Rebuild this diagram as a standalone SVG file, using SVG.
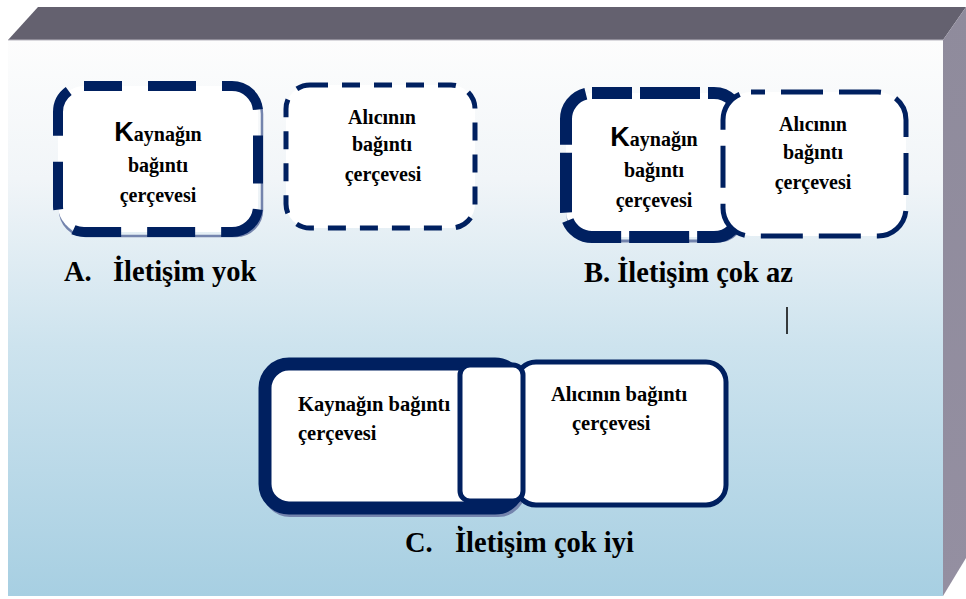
<svg xmlns="http://www.w3.org/2000/svg" width="966" height="599" viewBox="0 0 966 599">
  <defs>
    <linearGradient id="face" x1="0" y1="0" x2="0" y2="1">
      <stop offset="0" stop-color="#fdfdfd"/>
      <stop offset="0.25" stop-color="#f1f5f8"/>
      <stop offset="0.55" stop-color="#cde3ee"/>
      <stop offset="1" stop-color="#a7cfe2"/>
    </linearGradient>
    <linearGradient id="side" x1="0" y1="0" x2="0" y2="1">
      <stop offset="0" stop-color="#8f8b9c"/>
      <stop offset="1" stop-color="#948fa1"/>
    </linearGradient>
    <style>
      .lbl { font-family: "Liberation Serif", "Times New Roman", serif; font-weight: bold; fill: #000; }
      .box { font-size: 20px; text-anchor: middle; }
      .cbox { font-size: 20.5px; }
      .cap { font-size: 28.5px; }
      .big { font-size: 27px; font-family: "Liberation Sans", Arial, sans-serif; }
      .navy { stroke: #002060; fill: none; }
      .shadow { stroke: #7484ad; fill: none; }
      .card { fill: #fff; }
    </style>
  </defs>

  <!-- 3D board -->
  <g id="board">
    <polygon points="8,40 38,7 966,7 943,40" fill="#64616f"/>
    <polygon points="943,40 966,7 966,558 943,596" fill="url(#side)"/>
    <rect x="8" y="40" width="935" height="556" fill="url(#face)"/>
    <line x1="8" y1="40" x2="943" y2="40" stroke="#b8b6c0" stroke-width="1"/>
  </g>

  <!-- A: source frame -->
  <g id="a-source">
    <rect x="60" y="88" width="202" height="148" rx="26" class="shadow" stroke-width="2.5"/>
    <rect x="58" y="86" width="200" height="146" rx="26" class="card"/>
    <rect x="58" y="86" width="200" height="146" rx="26" class="navy" stroke-width="10" stroke-dasharray="48 26" stroke-dashoffset="10"/>
    <text class="lbl box" x="158" y="141"><tspan class="big">K</tspan>aynağın</text>
    <text class="lbl box" x="158" y="172">bağıntı</text>
    <text class="lbl box" x="158" y="202">çerçevesi</text>
  </g>

  <!-- A: receiver frame -->
  <g id="a-receiver">
    <rect x="286" y="85" width="189" height="143" rx="24" class="card"/>
    <rect x="286" y="85" width="189" height="143" rx="24" class="navy" stroke-width="5" stroke-dasharray="18 14"/>
    <text class="lbl box" x="382" y="124">Alıcının</text>
    <text class="lbl box" x="382" y="151">bağıntı</text>
    <text class="lbl box" x="383" y="181">çerçevesi</text>
  </g>

  <g id="cap-a" class="lbl cap">
    <text x="64" y="281">A.</text>
    <text x="113" y="281">İletişim yok</text>
  </g>

  <!-- B: source frame -->
  <g id="b-source">
    <rect x="568" y="96" width="176" height="145" rx="26" class="shadow" stroke-width="3"/>
    <rect x="566" y="93" width="174" height="144" rx="26" class="card"/>
    <rect x="566" y="93" width="174" height="144" rx="26" class="navy" stroke-width="12" stroke-dasharray="60 8" stroke-dashoffset="20"/>
    <text class="lbl box" x="654" y="146"><tspan class="big">K</tspan>aynağın</text>
    <text class="lbl box" x="654" y="177">bağıntı</text>
    <text class="lbl box" x="654" y="207">çerçevesi</text>
  </g>

  <!-- B: receiver frame, overlapping -->
  <g id="b-receiver">
    <rect x="723" y="92" width="183" height="144" rx="28" class="card"/>
    <rect x="723" y="92" width="183" height="144" rx="28" class="navy" stroke-width="5" stroke-dasharray="42 16" stroke-dashoffset="-30"/>
    <text class="lbl box" x="813" y="131">Alıcının</text>
    <text class="lbl box" x="813" y="159">bağıntı</text>
    <text class="lbl box" x="813" y="189">çerçevesi</text>
  </g>

  <text id="cap-b" class="lbl cap" x="584" y="282">B. İletişim çok az</text>
  <line x1="787" y1="307" x2="787" y2="334" stroke="#000" stroke-width="1.5"/>

  <!-- C: fully shared frame -->
  <g id="c-source">
    <rect x="264" y="365" width="260" height="150" rx="26" class="shadow" stroke-width="4"/>
    <rect x="265" y="364" width="254" height="144" rx="24" class="card"/>
    <rect x="265" y="364" width="254" height="144" rx="24" class="navy" stroke-width="13"/>
    <text class="lbl cbox" x="298" y="411">Kaynağın bağıntı</text>
    <text class="lbl cbox" x="298" y="440">çerçevesi</text>
  </g>
  <g id="c-receiver">
    <rect x="516" y="362" width="210" height="143" rx="20" class="card"/>
    <rect x="516" y="362" width="210" height="143" rx="20" class="navy" stroke-width="5"/>
    <text class="lbl cbox" x="551" y="401">Alıcının bağıntı</text>
    <text class="lbl cbox" x="572" y="430">çerçevesi</text>
  </g>
  <g id="c-overlap">
    <rect x="460" y="365" width="63" height="136" rx="10" class="card"/>
    <rect x="460" y="365" width="63" height="136" rx="10" class="navy" stroke-width="5"/>
  </g>
  <circle cx="459" cy="527" r="1.3" fill="#000"/>

  <g id="cap-c" class="lbl cap">
    <text x="405" y="552">C.</text>
    <text x="455" y="552">İletişim çok iyi</text>
  </g>
</svg>
